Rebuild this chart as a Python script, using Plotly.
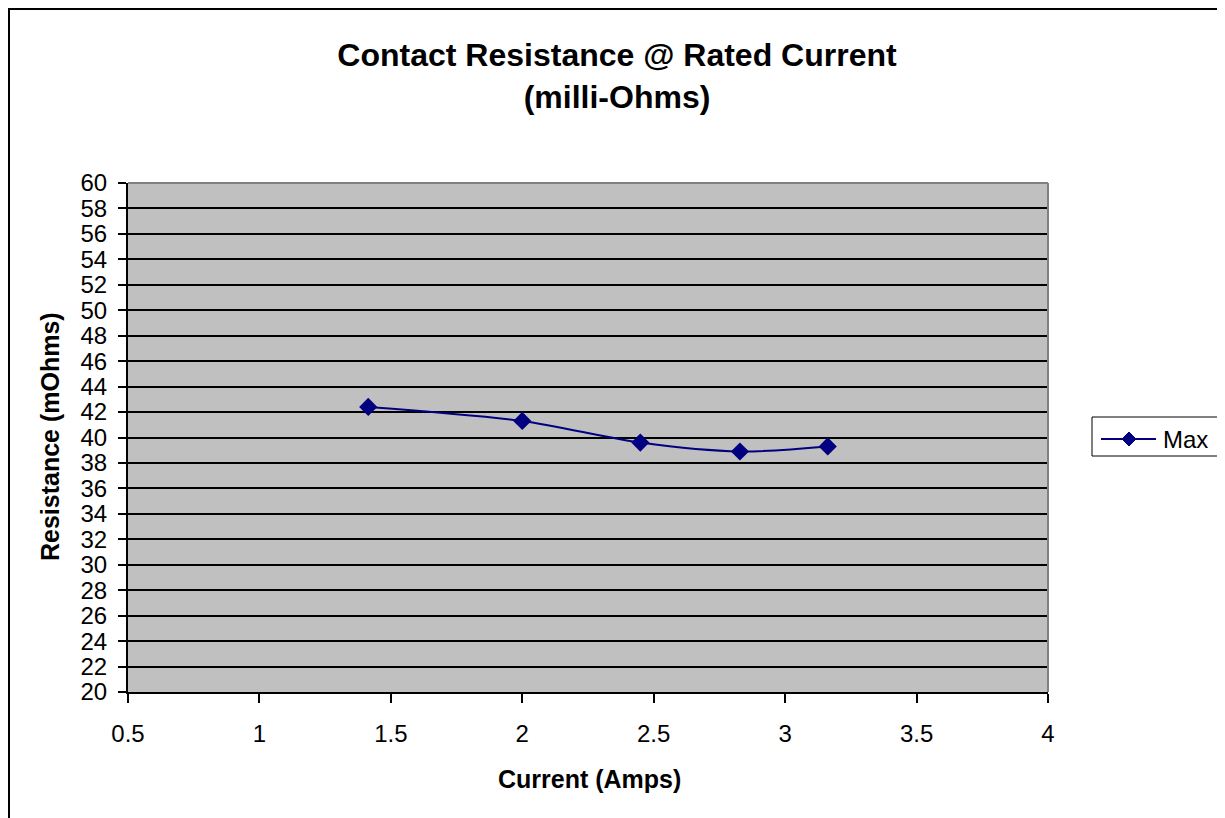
import plotly.graph_objects as go

# Data
current_amps = [1.414, 2.0, 2.449, 2.828, 3.162]
resistance_max = [42.4, 41.3, 39.6, 38.9, 39.3]
series_name = "Max"

x_ticks = [0.5, 1, 1.5, 2, 2.5, 3, 3.5, 4]
x_tick_labels = ["0.5", "1", "1.5", "2", "2.5", "3", "3.5", "4"]
y_ticks = list(range(20, 61, 2))

FONT = "Liberation Sans, Arial, sans-serif"
NAVY = "#000080"

# The page has an 8px body margin; work in page pixels and convert.
OFF = 8
PAGE_W, PAGE_H = 1225, 818
W, H = PAGE_W - OFF, PAGE_H - OFF
# plot area in page px
L, R, T, B = 128, 1048, 183, 692
pw, ph = R - L, B - T

def px_x(p):
    return (p - L) / pw

def px_y(p):
    return (B - p) / ph

fig = go.Figure()
fig.add_trace(go.Scatter(
    x=current_amps, y=resistance_max, name=series_name,
    mode="lines+markers",
    line=dict(color=NAVY, width=2, shape="spline", smoothing=0.8),
    marker=dict(symbol="diamond", size=14, color=NAVY),
    showlegend=False,
))

fig.update_layout(
    width=W, height=H,
    margin=dict(l=L - OFF, r=PAGE_W - R, t=T - OFF, b=PAGE_H - B, pad=0),
    paper_bgcolor="white",
    plot_bgcolor="#C0C0C0",
    font=dict(family=FONT, size=24, color="black"),
    title=dict(
        text="<b>Contact Resistance @ Rated Current<br>(milli-Ohms)</b>",
        font=dict(family=FONT, size=32, color="black"),
        x=(617 - OFF) / W, xref="container", xanchor="center",
        y=1 - 58 / H, yref="container", yanchor="top",
    ),
    xaxis=dict(
        range=[0.5, 4], tickvals=x_ticks, ticktext=x_tick_labels,
        showgrid=False, zeroline=False,
        showline=True, linecolor="black", linewidth=2,
        ticks="outside", ticklen=9, tickwidth=2, tickcolor="black",
        ticklabelstandoff=10,
        tickfont=dict(family=FONT, size=24, color="black"),
    ),
    yaxis=dict(
        range=[20, 60], tickvals=y_ticks,
        showgrid=True, gridcolor="black", gridwidth=1.5,
        zeroline=False,
        showline=True, linecolor="black", linewidth=2,
        ticks="outside", ticklen=8, tickwidth=2, tickcolor="black",
        ticklabelstandoff=6,
        tickfont=dict(family=FONT, size=24, color="black"),
    ),
)

# axis titles
fig.add_annotation(
    text="<b>Current (Amps)</b>", xref="paper", yref="paper",
    x=px_x(589), y=px_y(779), xanchor="center", yanchor="middle",
    showarrow=False, font=dict(family=FONT, size=25, color="black"),
)
fig.add_annotation(
    text="<b>Resistance (mOhms)</b>", xref="paper", yref="paper",
    x=px_x(50), y=px_y(437), xanchor="center", yanchor="middle",
    textangle=-90,
    showarrow=False, font=dict(family=FONT, size=25, color="black"),
)

# plot area top/right border (gray)
fig.add_shape(type="line", xref="paper", yref="paper", x0=0, x1=1, y0=1, y1=1,
              line=dict(color="#808080", width=2))
fig.add_shape(type="line", xref="paper", yref="paper", x0=1, x1=1, y0=0, y1=1,
              line=dict(color="#808080", width=2))

# legend (drawn to match the reference's legend box)
fig.add_shape(type="rect", xref="paper", yref="paper",
              x0=px_x(1092), x1=px_x(1218), y0=px_y(456), y1=px_y(417),
              line=dict(color="black", width=1), fillcolor="white")
fig.add_shape(type="line", xref="paper", yref="paper",
              x0=px_x(1101), x1=px_x(1156), y0=px_y(439), y1=px_y(439),
              line=dict(color=NAVY, width=2))
cx, cy, d = 1129, 439, 7
fig.add_shape(type="path", xref="paper", yref="paper",
              path=(f"M {px_x(cx - d)},{px_y(cy)} L {px_x(cx)},{px_y(cy - d)} "
                    f"L {px_x(cx + d)},{px_y(cy)} L {px_x(cx)},{px_y(cy + d)} Z"),
              line=dict(color=NAVY, width=1), fillcolor=NAVY)
fig.add_annotation(
    text=series_name, xref="paper", yref="paper",
    x=px_x(1161), y=px_y(439), xanchor="left", yanchor="middle",
    showarrow=False, font=dict(family=FONT, size=24, color="black"),
)

# chart area border
fig.add_shape(type="rect", xref="paper", yref="paper",
              x0=px_x(9), x1=px_x(1223.5), y0=px_y(830), y1=px_y(9),
              line=dict(color="black", width=2), layer="above")

fig.write_html("out.html")
